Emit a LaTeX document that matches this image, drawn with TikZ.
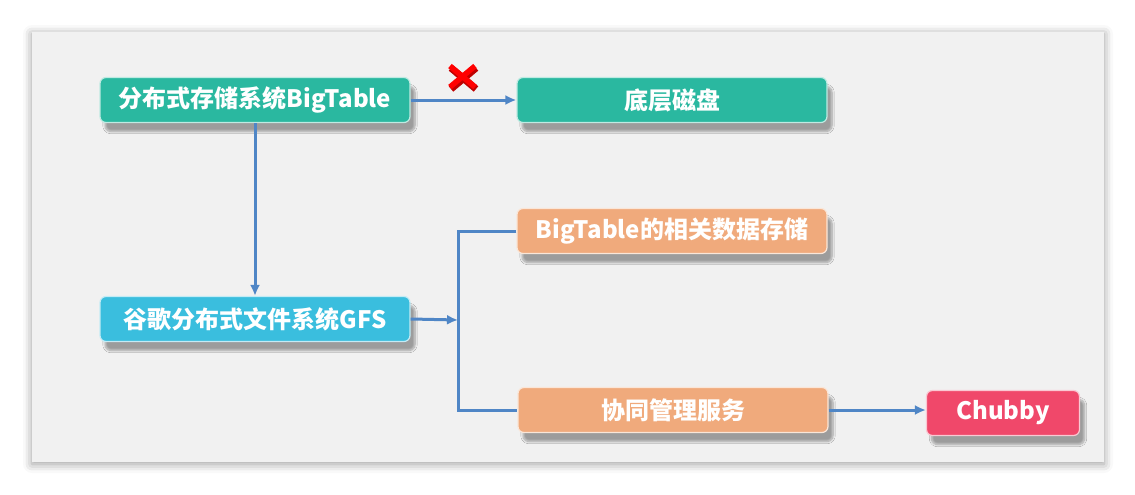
\documentclass[tikz,border=0pt]{standalone}
\usepackage{fontspec}
\setmainfont{Noto Sans CJK SC}
\usetikzlibrary{arrows.meta,shadows.blur}
\definecolor{panelGrey}{RGB}{241,241,241}
\definecolor{tealBox}{RGB}{42,184,160}
\definecolor{cyanBox}{RGB}{58,190,222}
\definecolor{orangeBox}{RGB}{240,170,124}
\definecolor{pinkBox}{RGB}{240,72,106}
\definecolor{linkBlue}{RGB}{79,134,198}
\begin{document}
\begin{tikzpicture}[x=1pt, y=-1pt,
    boxStyle/.style={rectangle, rounded corners=6pt, draw=white!70!#1, line width=1.2pt, fill=#1, text=white, minimum width=310pt, minimum height=45pt, inner sep=0pt, font=\bfseries\fontsize{24}{24}\selectfont, blur shadow={shadow xshift=5pt, shadow yshift=-9pt, shadow blur steps=8, shadow opacity=35}},
    linkStyle/.style={draw=linkBlue, line width=3pt},
    arrowStyle/.style={linkStyle, -{Latex[length=11pt,width=10pt]}}]
    \useasboundingbox (0, 0) rectangle (1135, 495);
    \fill[panelGrey, blur shadow={shadow xshift=0pt, shadow yshift=-2pt, shadow blur radius=9pt, shadow opacity=40}] (32, 32) rectangle (1104, 462);

    \node[boxStyle=tealBox]   (bigtable) at (255, 100) {分布式存储系统BigTable};
    \node[boxStyle=tealBox]   (disk)     at (672, 100) {底层磁盘};
    \node[boxStyle=cyanBox]   (gfs)      at (255, 319) {谷歌分布式文件系统GFS};
    \node[boxStyle=orangeBox] (meta)     at (672, 231) {BigTable的相关数据存储};
    \node[boxStyle=orangeBox] (coord)    at (673, 410) {协同管理服务};
    \node[boxStyle=pinkBox, minimum width=153pt] (chubby) at (1003, 413) {Chubby};

    \coordinate (junc) at (458, 320);

    \draw[arrowStyle] (bigtable.east) -- (disk.west);
    \draw[arrowStyle] (bigtable.south) -- (gfs.north);
    \draw[arrowStyle] (gfs.east) -- (junc);
    \draw[linkStyle] (meta.west) -| (junc) |- (coord.west);
    \draw[arrowStyle] (coord.east) -- (coord.east -| chubby.west);

    % red cross over the disk link
    \draw[red!75!black, line width=7pt] (451, 68) -- (476, 89) (451, 89) -- (476, 68);
    \draw[red, line width=5.5pt] (450, 66) -- (475, 87) (450, 87) -- (475, 66);
\end{tikzpicture}
\end{document}
